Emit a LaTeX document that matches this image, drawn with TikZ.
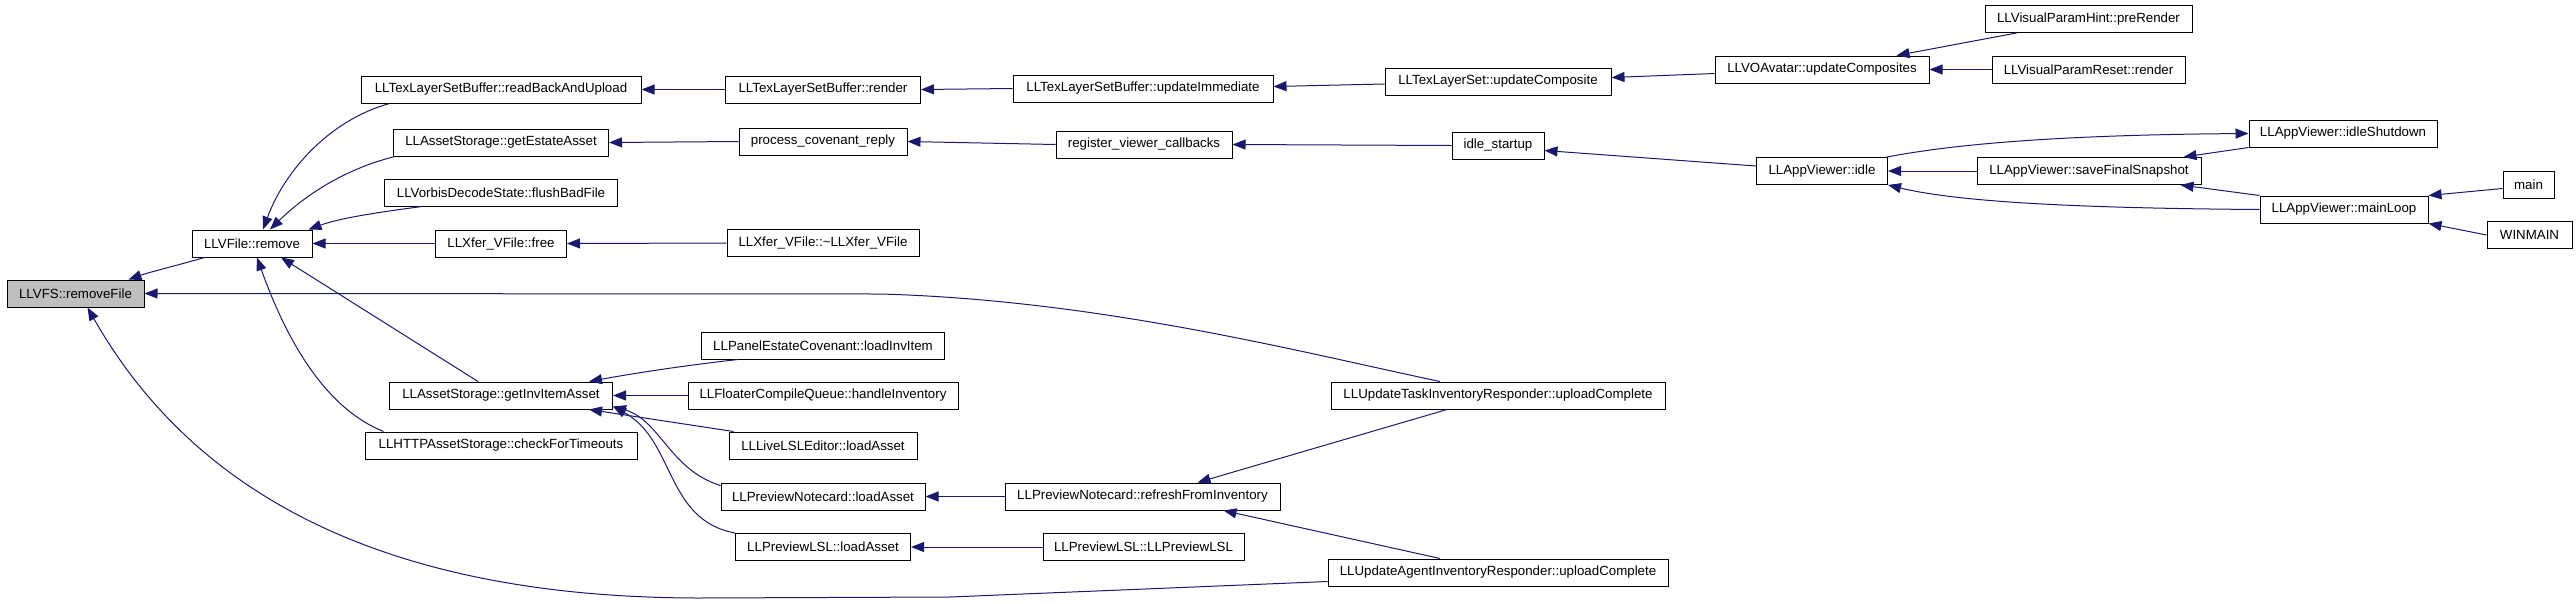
\documentclass[tikz,border=0pt]{standalone}
\usepackage{fontspec}
\setmainfont{Liberation Sans}
\usetikzlibrary{arrows.meta,calc}
\definecolor{edgec}{HTML}{191970}
\definecolor{grayfill}{HTML}{BFBFBF}
\tikzset{
  box/.style={draw=black, line width=1pt, minimum height=27pt, inner sep=0pt, font=\fontsize{13.3}{15}\selectfont, fill=white},
  edge/.style={draw=edgec, line width=1pt, -{Triangle[length=13pt,width=10pt]}}
}
\begin{document}
\begin{tikzpicture}[x=1pt,y=-1pt]
\useasboundingbox (0,0) rectangle (2576,603);
% column 1
\node[box, fill=grayfill, minimum width=137pt] (removeFile) at (75.5,293.5) {LLVFS::removeFile};
% column 2
\node[box, minimum width=120pt] (remove) at (252,243.5) {LLVFile::remove};
% column 3
\node[box, minimum width=280pt] (readback) at (501,89.5) {LLTexLayerSetBuffer::readBackAndUpload};
\node[box, minimum width=215pt] (estate) at (501,142.5) {LLAssetStorage::getEstateAsset};
\node[box, minimum width=233pt] (flush) at (501,192.5) {LLVorbisDecodeState::flushBadFile};
\node[box, minimum width=131pt] (free) at (501,243.5) {LLXfer\_VFile::free};
\node[box, minimum width=223pt] (invitem) at (501,395.5) {LLAssetStorage::getInvItemAsset};
\node[box, minimum width=272pt] (timeouts) at (501,445.5) {LLHTTPAssetStorage::checkForTimeouts};
% column 4
\node[box, minimum width=195pt] (render) at (823,89.5) {LLTexLayerSetBuffer::render};
\node[box, minimum width=168pt] (pcr) at (823,141.5) {process\_covenant\_reply};
\node[box, minimum width=192pt] (xferdtor) at (823,243) {LLXfer\_VFile::\textasciitilde LLXfer\_VFile};
\node[box, minimum width=243pt] (panel) at (823,345.5) {LLPanelEstateCovenant::loadInvItem};
\node[box, minimum width=270pt] (handle) at (823,395.5) {LLFloaterCompileQueue::handleInventory};
\node[box, minimum width=188pt] (live) at (823,445.5) {LLLiveLSLEditor::loadAsset};
\node[box, minimum width=204pt] (pnload) at (823,496.5) {LLPreviewNotecard::loadAsset};
\node[box, minimum width=175pt] (plsl) at (823,547) {LLPreviewLSL::loadAsset};
% column 5
\node[box, minimum width=260pt] (updimm) at (1143,88.5) {LLTexLayerSetBuffer::updateImmediate};
\node[box, minimum width=176pt] (rvc) at (1144,144.5) {register\_viewer\_callbacks};
\node[box, minimum width=275pt] (refresh) at (1142.5,496.5) {LLPreviewNotecard::refreshFromInventory};
\node[box, minimum width=201pt] (pctor) at (1143.5,547) {LLPreviewLSL::LLPreviewLSL};
% column 6
\node[box, minimum width=226pt] (updcomp) at (1498,81.5) {LLTexLayerSet::updateComposite};
\node[box, minimum width=92pt] (idlestart) at (1498,145.5) {idle\_startup};
\node[box, minimum width=334pt] (uptask) at (1498,395.5) {LLUpdateTaskInventoryResponder::uploadComplete};
\node[box, minimum width=340pt] (uagent) at (1498,572.5) {LLUpdateAgentInventoryResponder::uploadComplete};
% column 7
\node[box, minimum width=214pt] (vo) at (1822,69.5) {LLVOAvatar::updateComposites};
\node[box, minimum width=131pt] (idle) at (1822,171) {LLAppViewer::idle};
% column 8
\node[box, minimum width=207pt] (prerender) at (2088.5,19) {LLVisualParamHint::preRender};
\node[box, minimum width=193pt] (vpreset) at (2088.5,69.5) {LLVisualParamReset::render};
\node[box, minimum width=224pt] (save) at (2089,171) {LLAppViewer::saveFinalSnapshot};
% column 9
\node[box, minimum width=188pt] (idleshut) at (2343,133.5) {LLAppViewer::idleShutdown};
\node[box, minimum width=168pt] (mainloop) at (2344,209.5) {LLAppViewer::mainLoop};
% column 10
\node[box, minimum width=51pt] (main) at (2528.5,184.5) {main};
\node[box, minimum width=85pt] (winmain) at (2529.5,235) {WINMAIN};

% edges
\draw[edge] ($(remove.south west)+(13,0)$) .. controls (175,266) and (150,272) .. ($(removeFile.north)+(53,0)$);
\draw[edge] ($(uptask.north)+(-58,0)$) .. controls (1300,352) and (1100,300) .. (880,294) -- (removeFile.east);
\draw[edge] ($(uagent.west)+(0,9)$) -- (950,597) -- (700,598) .. controls (350,598) and (180,470) .. ($(removeFile.south)+(12,0)$);
\draw[edge] ($(readback.south west)+(29,0)$) .. controls (330,120) and (285,170) .. ($(remove.north)+(11,0)$);
\draw[edge] ($(estate.south west)+(2,0)$) .. controls (340,170) and (300,200) .. ($(remove.north)+(18,0)$);
\draw[edge] ($(flush.south west)+(38,0)$) .. controls (380,212) and (340,218) .. ($(remove.north east)+(-4,0)$);
\draw[edge] (free.west) -- (remove.east);
\draw[edge] ($(invitem.north)+(-23,0)$) -- ($(remove.south)+(29,0)$);
\draw[edge] ($(timeouts.north west)+(19,0)$) .. controls (330,410) and (290,350) .. ($(remove.south)+(5,0)$);
\draw[edge] (render.west) -- (readback.east);
\draw[edge] (updimm.west) -- (render.east);
\draw[edge] ($(updcomp.west)+(0,2.5)$) -- ($(updimm.east)+(0,-2)$);
\draw[edge] ($(vo.west)+(0,4)$) -- ($(updcomp.east)+(0,-4)$);
\draw[edge] ($(prerender.south west)+(32,0)$) -- ($(vo.north east)+(-33,0)$);
\draw[edge] (vpreset.west) -- (vo.east);
\draw[edge] (pcr.west) -- (estate.east);
\draw[edge] (rvc.west) -- (pcr.east);
\draw[edge] (idlestart.west) -- (rvc.east);
\draw[edge] ($(idle.west)+(0,-5)$) -- ($(idlestart.east)+(0,5)$);
\draw[edge] ($(idle.north east)+(-1,0)$) .. controls (1950,145) and (2050,135) .. (idleshut.west);
\draw[edge] (save.west) -- (idle.east);
\draw[edge] (mainloop.west) .. controls (2050,208) and (1950,200) .. (idle.south east);
\draw[edge] (idleshut.south west) -- ($(save.north east)+(-18,0)$);
\draw[edge] (mainloop.north west) -- ($(save.south east)+(-21,0)$);
\draw[edge] ($(main.west)+(0,4)$) -- (mainloop.north east);
\draw[edge] (winmain.west) -- (mainloop.south east);
\draw[edge] (xferdtor.west) -- (free.east);
\draw[edge] ($(panel.south west)+(37,0)$) .. controls (680,366) and (630,374) .. ($(invitem.north east)+(-24,0)$);
\draw[edge] (handle.west) -- (invitem.east);
\draw[edge] ($(live.north west)+(5,0)$) -- ($(invitem.south east)+(-24,0)$);
\draw[edge] ($(pnload.west)+(0,-11)$) .. controls (670,470) and (660,420) .. ($(invitem.south east)+(0,-3)$);
\draw[edge] (plsl.north west) .. controls (665,520) and (675,440) .. ($(invitem.south east)+(0,-3)$);
\draw[edge] (refresh.west) -- (pnload.east);
\draw[edge] ($(uptask.south)+(-51,0)$) -- ($(refresh.north)+(55,0)$);
\draw[edge] ($(uagent.north)+(-58,0)$) -- ($(refresh.south)+(81,0)$);
\draw[edge] (pctor.west) -- (plsl.east);
\end{tikzpicture}
\end{document}
